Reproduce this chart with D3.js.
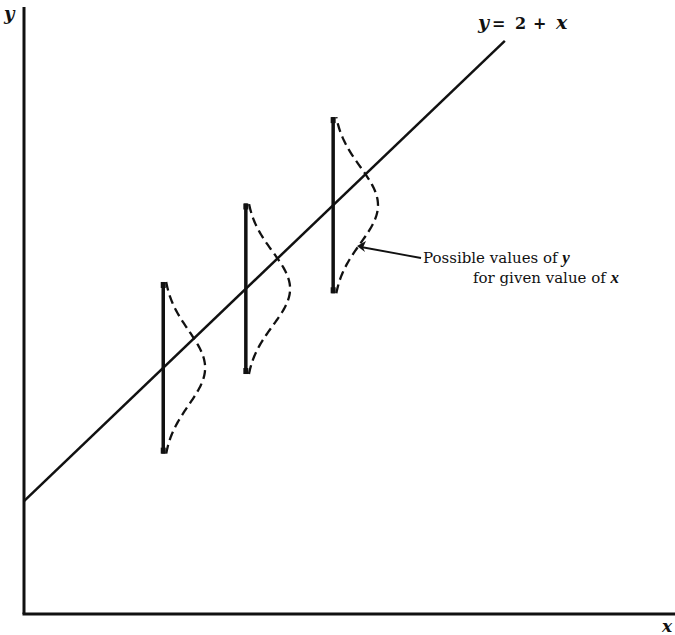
<!DOCTYPE html>
<html>
<head>
<meta charset="utf-8">
<script src="https://cdn.jsdelivr.net/npm/d3@7"></script>
<style>
html,body{margin:0;padding:0;background:#fff;}
svg{display:block;}
text{font-family:"DejaVu Serif","Liberation Serif",serif;fill:#111;}
</style>
</head>
<body>
<script>
// Data
const lineIntercept = 2;          // y = 2 + x
const lineSlope = 1;
const lineXRange = [0, 8.15];
const groupX = [2.36, 3.76, 5.24];       // x positions of the conditional distributions
const groupSpread = [1.52, 1.51, 1.56];  // half-range of possible y values
const curveWidth = [0.71, 0.75, 0.76];   // peak width of density (x units)
const xDomain = [0, 11];
const yDomain = [0, 10.75];
const equationParts = ["y", "=", "2", "+", "x"];
const annotationLines = ["Possible values of ", "y", "for given value of ", "x"];

const W = 675, H = 635;
const svg = d3.select("body").append("svg").attr("width", W).attr("height", H);

const x = d3.scaleLinear().domain(xDomain).range([24, 673]);
const y = d3.scaleLinear().domain(yDomain).range([614, 7]);

// Axes (no ticks)
svg.append("line").attr("x1", x(0)).attr("x2", x(0)).attr("y1", y(yDomain[1])).attr("y2", y(0))
  .attr("stroke", "#111").attr("stroke-width", 3);
svg.append("line").attr("x1", x(0) - 1.5).attr("x2", W).attr("y1", y(0)).attr("y2", y(0))
  .attr("stroke", "#111").attr("stroke-width", 3);

svg.append("text").attr("x", 4).attr("y", 20).attr("font-size", 18)
  .attr("font-family", "Liberation Serif")
  .attr("font-style", "italic").attr("font-weight", "bold").text("y");
svg.append("text").attr("x", 662).attr("y", 632).attr("font-size", 17)
  .attr("font-family", "Liberation Serif")
  .attr("font-style", "italic").attr("font-weight", "bold").text("x");

// Regression line
const f = v => lineIntercept + lineSlope * v;
svg.append("path")
  .datum(lineXRange)
  .attr("d", d3.line().x(d => x(d)).y(d => y(f(d))))
  .attr("stroke", "#111").attr("stroke-width", 2.5).attr("fill", "none");

// Equation label
const eqX = [478, 492, 515, 533, 556];
const eq = svg.append("g").attr("font-size", 17);
equationParts.forEach((p, i) => {
  const italic = (p === "y" || p === "x");
  eq.append("text").attr("x", eqX[i]).attr("y", 29)
    .attr("font-family", italic ? "Liberation Serif" : "DejaVu Serif")
    .attr("font-size", italic ? 19 : 16)
    .attr("font-style", italic ? "italic" : null)
    .attr("font-weight", "bold").text(p);
});

// Conditional distributions
groupX.forEach((gx, i) => {
  const c = f(gx), h = groupSpread[i], A = curveWidth[i];
  const sigma = h / 2.3;
  svg.append("line").attr("x1", x(gx)).attr("x2", x(gx))
    .attr("y1", y(c + h)).attr("y2", y(c - h))
    .attr("stroke", "#111").attr("stroke-width", 3.5);
  [c + h, c - h].forEach(v => {
    svg.append("rect").attr("x", x(gx) - 2.5).attr("y", y(v) - (v > c ? 0 : 6))
      .attr("width", 5).attr("height", 6).attr("fill", "#111");
  });
  const pts = d3.range(-h, h + 0.0001, h / 60).map(t => [gx + A * Math.exp(-t * t / (2 * sigma * sigma)), c + t]);
  svg.append("path").datum(pts)
    .attr("d", d3.line().x(d => x(d[0])).y(d => y(d[1])).curve(d3.curveBasis))
    .attr("fill", "none").attr("stroke", "#111").attr("stroke-width", 2.3)
    .attr("stroke-dasharray", "9,5");
});

// Annotation arrow
const tipX = 357, tipY = 246, tailX = 421, tailY = 258;
svg.append("line").attr("x1", tailX).attr("y1", tailY).attr("x2", tipX + 4).attr("y2", tipY + 1)
  .attr("stroke", "#111").attr("stroke-width", 1.8);
svg.append("path")
  .attr("d", `M${tipX},${tipY} L${tipX + 9},${tipY - 5} L${tipX + 6},${tipY + 1.5} L${tipX + 8},${tipY + 6} Z`)
  .attr("fill", "#111");

const a1 = svg.append("text").attr("x", 423).attr("y", 263).attr("font-size", 15);
a1.append("tspan").text(annotationLines[0]);
a1.append("tspan").attr("font-family", "Liberation Serif").attr("font-size", 17)
  .attr("font-style", "italic").attr("font-weight", "bold").text(annotationLines[1]);
const a2 = svg.append("text").attr("x", 473).attr("y", 283).attr("font-size", 15);
a2.append("tspan").text(annotationLines[2]);
a2.append("tspan").attr("font-family", "Liberation Serif").attr("font-size", 17)
  .attr("font-style", "italic").attr("font-weight", "bold").text(annotationLines[3]);
</script>
</body>
</html>
